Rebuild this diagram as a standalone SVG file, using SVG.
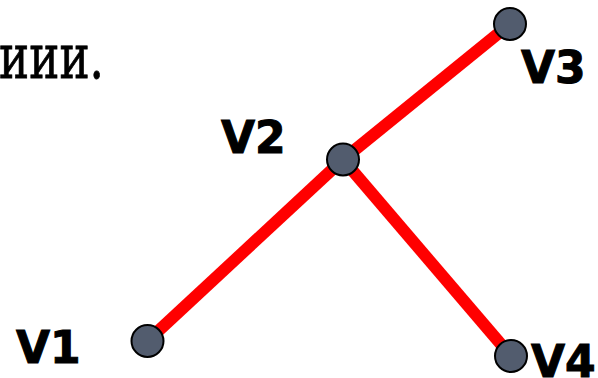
<svg xmlns="http://www.w3.org/2000/svg" width="598" height="378" viewBox="0 0 598 378">
<style>
.edge{stroke:#ff0000;stroke-width:12;stroke-linecap:butt;fill:none}
.node circle{fill:#525c6e;stroke:#000;stroke-width:2}
.lbl{font-family:"DejaVu Sans",Verdana,sans-serif;font-weight:bold;font-size:44px;fill:#000;stroke:#000;stroke-width:1}
.txt{font-family:"DejaVu Serif","Liberation Serif",serif;font-size:62px;fill:#000;stroke:#000;stroke-width:0.8}
</style>
<rect width="598" height="378" fill="#fff"/>
<text class="txt" x="-1" y="78" textLength="105" lengthAdjust="spacingAndGlyphs">иии.</text>
<g id="connectors">
<line class="edge" x1="147.5" y1="341" x2="343" y2="159.5"/>
<line class="edge" x1="343" y1="159.5" x2="510" y2="24"/>
<line class="edge" x1="343" y1="159.5" x2="511" y2="356"/>
</g>
<g id="V1" class="node"><circle cx="147.5" cy="341" r="16"/><text class="lbl" x="16" y="363">V1</text></g>
<g id="V2" class="node"><circle cx="343" cy="159.5" r="16"/><text class="lbl" x="221" y="153">V2</text></g>
<g id="V3" class="node"><circle cx="510" cy="24" r="16"/><text class="lbl" x="521" y="83">V3</text></g>
<g id="V4" class="node"><circle cx="511" cy="356" r="16"/><text class="lbl" x="531" y="377">V4</text></g>
</svg>
